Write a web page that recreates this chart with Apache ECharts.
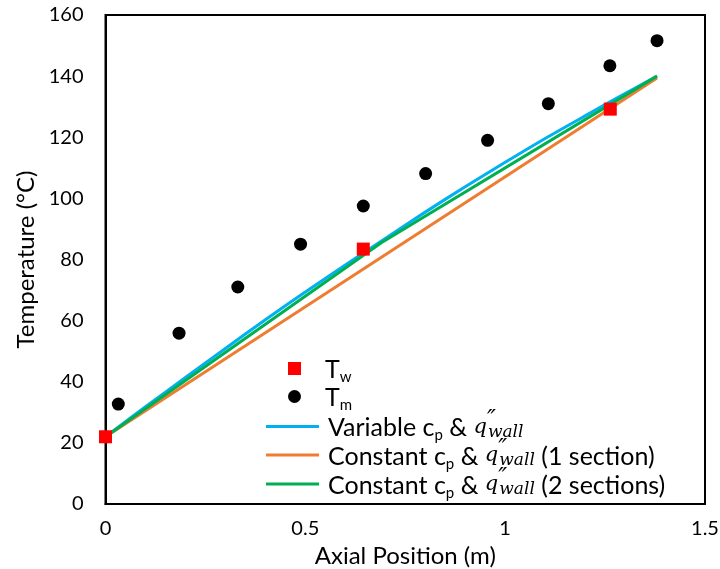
<!DOCTYPE html>
<html>
<head>
<meta charset="utf-8">
<script src="https://cdn.jsdelivr.net/npm/echarts@6/dist/echarts.min.js"></script>
<style>html,body{margin:0;padding:0;background:#fff}#c{width:720px;height:569px}</style>
</head>
<body>
<div id="c"></div>
<script>
// Measured T_m (bulk fluid) points
const tmX = [0.032, 0.184, 0.331, 0.488, 0.645, 0.801, 0.956, 1.108, 1.262, 1.380];
const tmY = [32.7, 55.9, 71.0, 85.0, 97.5, 108.1, 119.0, 131.0, 143.4, 151.6];
// Measured T_w (wall) points
const twX = [0, 0.645, 1.263];
const twY = [22.0, 83.4, 129.2];
// Variable cp & q''wall
const varX = [0, 0.1, 0.2, 0.3, 0.4, 0.5, 0.6, 0.7, 0.8, 0.9, 1.0, 1.1, 1.2, 1.3, 1.38];
const varY = [22, 31.8, 41.4, 50.9, 60.3, 69.4, 78.2, 86.9, 95.5, 103.8, 111.8, 119.6, 127.0, 134.3, 140.0];
// Constant cp & q''wall (1 section)
const c1X = [0, 1.38];
const c1Y = [22, 139.4];
// Constant cp & q''wall (2 sections)
const c2X = [0, 0.69, 1.38];
const c2Y = [22, 85.5, 140];
// Axis ticks
const xTicks = {min: 0, max: 1.5, interval: 0.5};
const yTicks = {min: 0, max: 160, interval: 20};

const zip = (xs, ys) => xs.map((x, i) => [x, ys[i]]);
const FONT = 'Lato';
const chart = echarts.init(document.getElementById('c'));

const lh = 29;
const rich = {
  t: {fontFamily: FONT, fontSize: 25, color: '#000', lineHeight: lh, height: lh - 4, padding: [3, 0, 0, 0]},
  s: {fontFamily: FONT, fontSize: 15, color: '#000', lineHeight: lh, height: lh - 18, padding: [18, 0, 0, 0]},
  qi: {fontFamily: 'DejaVu Serif', fontStyle: 'italic', fontSize: 21, color: '#000', lineHeight: lh, height: lh - 3, padding: [2, 0, 0, 0]},
  sup: {fontFamily: 'DejaVu Serif', fontStyle: 'italic', fontSize: 24, color: '#000', lineHeight: lh, height: lh - 12, padding: [0, 0, 11, 0], width: 1},
  wi: {fontFamily: 'DejaVu Serif', fontStyle: 'italic', fontSize: 17, color: '#000', lineHeight: lh, height: lh - 13, padding: [12, 0, 0, 0]},
  g: {width: 19, lineHeight: lh, height: lh - 1},
  h: {width: 4, lineHeight: lh, height: lh - 1}
};

const names = {tw: 'Tw', tm: 'Tm', v: 'Variable', c1: 'Constant1', c2: 'Constant2'};
const fmt = {
  [names.tw]: '{g|}{t|T}{s|w}',
  [names.tm]: '{g|}{t|T}{s|m}',
  [names.v]: '{h|}{t|Variable c}{s|p}{t| & }{qi|q}{sup|″}{wi|wall}',
  [names.c1]: '{h|}{t|Constant c}{s|p}{t| & }{qi|q}{sup|″}{wi|wall}{t| (1 section)}',
  [names.c2]: '{h|}{t|Constant c}{s|p}{t| & }{qi|q}{sup|″}{wi|wall}{t| (2 sections)}'
};

function oneLegend(name, icon, left, top, w, h) {
  return {
    data: [{name: name, icon: icon}], orient: 'vertical', left: left, top: top, padding: 0,
    itemWidth: w, itemHeight: h, itemGap: 0,
    formatter: n => fmt[n], textStyle: {rich: rich}
  };
}

chart.setOption({
  animation: false,
  backgroundColor: '#fff',
  grid: {left: 105.5, right: 15, top: 15, bottom: 65, containLabel: false, outerBoundsMode: 'none',
    show: true, borderColor: '#000', borderWidth: 2, backgroundColor: 'transparent'},
  xAxis: {
    type: 'value', min: xTicks.min, max: xTicks.max, interval: xTicks.interval,
    name: 'Axial Position (m)', nameLocation: 'middle', nameGap: 33,
    nameTextStyle: {fontFamily: FONT, fontSize: 24, color: '#000'},
    axisLine: {show: true, lineStyle: {color: '#000', width: 2}},
    axisTick: {show: false}, splitLine: {show: false},
    axisLabel: {fontFamily: FONT, fontSize: 20, color: '#000', margin: 15}
  },
  yAxis: {
    type: 'value', min: yTicks.min, max: yTicks.max, interval: yTicks.interval,
    name: 'Temperature (°C)', nameLocation: 'middle', nameGap: 66,
    nameTextStyle: {fontFamily: FONT, fontSize: 24, color: '#000'},
    axisLine: {show: true, lineStyle: {color: '#000', width: 2}},
    axisTick: {show: false}, splitLine: {show: false},
    axisLabel: {fontFamily: FONT, fontSize: 20, color: '#000', margin: 22}
  },
  legend: [
    oneLegend(names.tw, 'rect', 288, 354, 13, 13),
    oneLegend(names.tm, 'circle', 288, 382, 13, 13),
    oneLegend(names.v, 'rect', 266, 409, 53, 3),
    oneLegend(names.c1, 'rect', 266, 437.5, 53, 3),
    oneLegend(names.c2, 'rect', 266, 466.5, 53, 3)
  ],
  series: [
    {name: names.v, type: 'line', data: zip(varX, varY), showSymbol: false, smooth: 0.3,
      lineStyle: {color: '#00B0F0', width: 3}, itemStyle: {color: '#00B0F0'}, z: 2},
    {name: names.c1, type: 'line', data: zip(c1X, c1Y), showSymbol: false,
      lineStyle: {color: '#ED7D31', width: 3}, itemStyle: {color: '#ED7D31'}, z: 2},
    {name: names.c2, type: 'line', data: zip(c2X, c2Y), showSymbol: false,
      lineStyle: {color: '#00B050', width: 3}, itemStyle: {color: '#00B050'}, z: 3},
    {name: names.tw, type: 'scatter', data: zip(twX, twY), symbol: 'rect', symbolSize: 13,
      itemStyle: {color: '#FF0000', opacity: 1}, clip: false, z: 5},
    {name: names.tm, type: 'scatter', data: zip(tmX, tmY), symbol: 'circle', symbolSize: 13,
      itemStyle: {color: '#000', opacity: 1}, clip: false, z: 5}
  ]
});
</script>
</body>
</html>
